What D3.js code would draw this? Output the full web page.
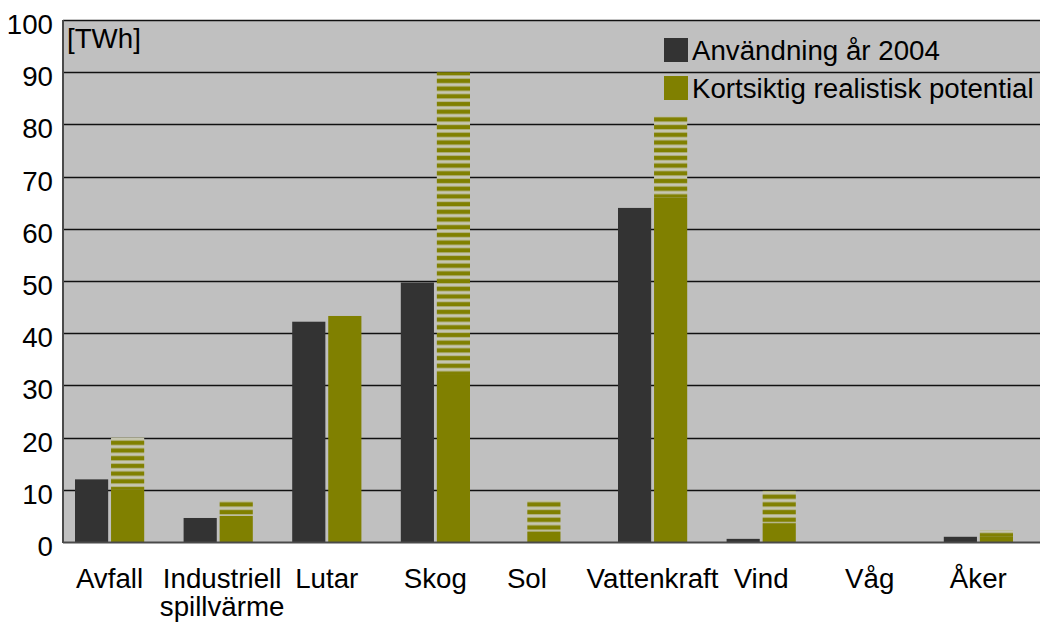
<!DOCTYPE html>
<html>
<head>
<meta charset="utf-8">
<script src="https://cdn.jsdelivr.net/npm/d3@7"></script>
<style>
  html, body { margin: 0; padding: 0; background: #fff; }
  svg text { font-family: "Liberation Sans", Arial, sans-serif; fill: #000; }
</style>
</head>
<body>
<div id="chart"></div>
<script>
  // chart data
  const categories = ["Avfall", "Industriell\nspillvärme", "Lutar", "Skog", "Sol", "Vattenkraft", "Vind", "Våg", "Åker"];
  const use2004 = [12, 4.6, 42.2, 49.7, 0, 64, 0.6, 0, 1];
  const potentialSolid = [10, 5, 43.3, 32, 2, 66, 3.6, 0, 1];
  const potentialTotal = [20, 8, 43.3, 90, 8, 81.5, 9.8, 0, 2.3];
  const yTicks = [0, 10, 20, 30, 40, 50, 60, 70, 80, 90, 100];
  const seriesNames = ["Användning år 2004", "Kortsiktig realistisk potential"];
  const unitLabel = "[TWh]";

  const W = 1040, H = 624;
  const plot = { left: 63, right: 1040, top: 20, bottom: 542 };
  const colors = { bg: "#c0c0c0", dark: "#333333", olive: "#808000" };
  const fontSize = 27.7;
  // small nudges of some category labels, as in the original
  const labelNudge = { "Industriell\nspillvärme": 4, "Sol": -17 };

  const svg = d3.select("#chart")
    .append("svg")
    .attr("width", W)
    .attr("height", H);

  // horizontal stripe pattern for the hatched part of the potential bars
  const defs = svg.append("defs");
  const pat = defs.append("pattern")
    .attr("id", "stripes")
    .attr("patternUnits", "userSpaceOnUse")
    .attr("width", 8)
    .attr("height", 7.7);
  pat.append("rect").attr("width", 8).attr("height", 7.7).attr("fill", "#c6c6b2");
  pat.append("rect").attr("y", 1.4).attr("width", 8).attr("height", 5).attr("fill", "#a4a45c");
  pat.append("rect").attr("y", 2).attr("width", 8).attr("height", 3.8).attr("fill", colors.olive);

  const y = d3.scaleLinear().domain([0, 100]).range([plot.bottom, plot.top]);
  const x0 = d3.scaleBand().domain(categories).range([55.2, 1032.6]).padding(0);
  const x1 = d3.scaleBand().domain(["use", "pot"]).range([19.8, 89]).paddingInner(0.08);
  const half = x0.bandwidth() / 2;

  // plot background
  svg.append("rect")
    .attr("x", plot.left)
    .attr("y", plot.top)
    .attr("width", plot.right - plot.left)
    .attr("height", plot.bottom - plot.top)
    .attr("fill", colors.bg);

  // gridlines
  svg.append("g")
    .selectAll("line")
    .data(yTicks.filter(d => d > 0))
    .join("line")
    .attr("x1", plot.left)
    .attr("x2", plot.right)
    .attr("y1", d => Math.round(y(d)) + 0.5)
    .attr("y2", d => Math.round(y(d)) + 0.5)
    .attr("stroke", "#111")
    .attr("stroke-width", 1.3);

  // bars
  const groups = svg.append("g")
    .selectAll("g")
    .data(categories.map((c, i) => ({ c, i })))
    .join("g")
    .attr("transform", d => `translate(${x0(d.c)},0)`);

  // potential bar is centred in its band when there is no 2004 value
  const potX = d => (use2004[d.i] === 0 ? half - x1.bandwidth() / 2 : x1("pot"));

  groups.filter(d => use2004[d.i] > 0)
    .append("rect")
    .attr("x", x1("use"))
    .attr("width", x1.bandwidth())
    .attr("y", d => y(use2004[d.i]))
    .attr("height", d => y(0) - y(use2004[d.i]))
    .attr("fill", colors.dark);

  groups.append("rect")
    .attr("x", potX)
    .attr("width", x1.bandwidth())
    .attr("y", d => y(potentialTotal[d.i]))
    .attr("height", d => Math.max(0, y(potentialSolid[d.i]) - y(potentialTotal[d.i])))
    .attr("fill", "url(#stripes)");

  groups.append("rect")
    .attr("x", potX)
    .attr("width", x1.bandwidth())
    .attr("y", d => y(potentialSolid[d.i]))
    .attr("height", d => y(0) - y(potentialSolid[d.i]))
    .attr("fill", colors.olive);

  // left and bottom borders
  svg.append("line")
    .attr("x1", plot.left).attr("x2", plot.left)
    .attr("y1", plot.top).attr("y2", plot.bottom + 1)
    .attr("stroke", "#4a4a4a").attr("stroke-width", 2);
  svg.append("line")
    .attr("x1", plot.left).attr("x2", plot.right)
    .attr("y1", plot.bottom + 0.5).attr("y2", plot.bottom + 0.5)
    .attr("stroke", "#4a4a4a").attr("stroke-width", 2);

  // y tick labels
  svg.append("g")
    .selectAll("text")
    .data(yTicks)
    .join("text")
    .attr("x", 53)
    .attr("y", d => y(d) + 14)
    .attr("text-anchor", "end")
    .attr("font-size", fontSize)
    .text(d => d);

  // category labels
  svg.append("g")
    .selectAll("text")
    .data(categories)
    .join("text")
    .attr("x", d => x0(d) + half + (labelNudge[d] || 0))
    .attr("y", 588)
    .attr("text-anchor", "middle")
    .attr("font-size", fontSize)
    .each(function (d) {
      d.split("\n").forEach((part, k) => {
        d3.select(this).append("tspan")
          .attr("x", d3.select(this).attr("x"))
          .attr("dy", k === 0 ? 0 : 28)
          .text(part);
      });
    });

  // unit label
  svg.append("text")
    .attr("x", 67)
    .attr("y", 48)
    .attr("font-size", fontSize)
    .text(unitLabel);

  // legend
  const legend = svg.append("g");
  [colors.dark, colors.olive].forEach((col, k) => {
    legend.append("rect")
      .attr("x", 664)
      .attr("y", 38 + k * 38)
      .attr("width", 24)
      .attr("height", 24)
      .attr("fill", col);
    legend.append("text")
      .attr("x", 692)
      .attr("y", 60 + k * 38)
      .attr("font-size", fontSize)
      .text(seriesNames[k]);
  });
</script>
</body>
</html>
